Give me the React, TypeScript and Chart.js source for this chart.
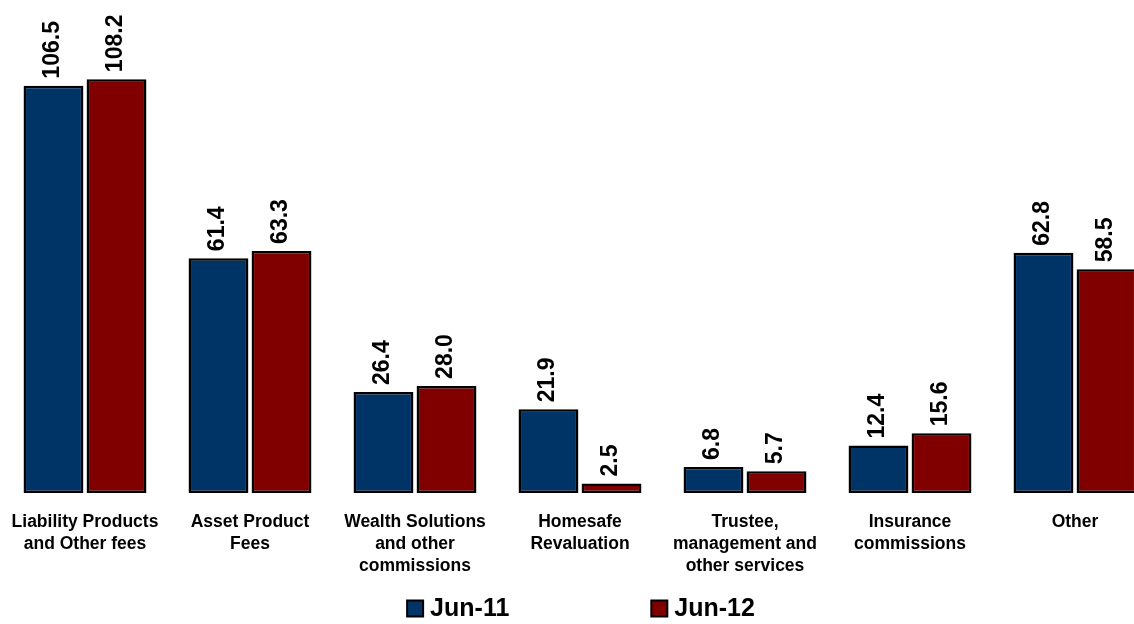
import React, { useEffect, useRef } from "react";
import { Chart, registerables } from "chart.js";

Chart.register(...registerables);

const categories: string[][] = [
  ["Liability Products", "and Other fees"],
  ["Asset Product", "Fees"],
  ["Wealth Solutions", "and other", "commissions"],
  ["Homesafe", "Revaluation"],
  ["Trustee,", "management and", "other services"],
  ["Insurance", "commissions"],
  ["Other"],
];

const jun11: number[] = [106.5, 61.4, 26.4, 21.9, 6.8, 12.4, 62.8];
const jun12: number[] = [108.2, 63.3, 28.0, 2.5, 5.7, 15.6, 58.5];

const seriesNames: string[] = ["Jun-11", "Jun-12"];
const seriesColors: string[] = ["#003366", "#800000"];

const FONT = "'Liberation Sans', Arial, Helvetica, sans-serif";

// Rotated value labels sitting just above each bar
const valueLabels = {
  id: "valueLabels",
  afterDatasetsDraw(chart: any) {
    const ctx = chart.ctx;
    ctx.save();
    ctx.fillStyle = "#000";
    ctx.font = `bold 23px ${FONT}`;
    ctx.textAlign = "left";
    ctx.textBaseline = "middle";
    chart.data.datasets.forEach((ds: any, di: number) => {
      const meta = chart.getDatasetMeta(di);
      meta.data.forEach((el: any, i: number) => {
        const v = ds.data[i] as number;
        ctx.save();
        ctx.translate(el.x - 1, el.y - 7);
        ctx.rotate(-Math.PI / 2);
        ctx.fillText(v.toFixed(1), 0, 0);
        ctx.restore();
      });
    });
    ctx.restore();
  },
};

// Legend along the bottom edge with square swatches
const bottomLegend = {
  id: "bottomLegend",
  afterDraw(chart: any) {
    const ctx = chart.ctx;
    ctx.save();
    ctx.font = `bold 25px ${FONT}`;
    ctx.textBaseline = "middle";
    ctx.textAlign = "left";
    const box = 18;
    const gap = 7;
    const between = 140;
    const items = chart.data.datasets.map((ds: any) => ({
      label: ds.label as string,
      color: ds.backgroundColor as string,
      w: box + gap + ctx.measureText(ds.label).width,
    }));
    const total =
      items.reduce((s: number, it: any) => s + it.w, 0) + between * (items.length - 1);
    let x = chart.width / 2 + 1 - total / 2;
    const cy = 608.5;
    items.forEach((it: any) => {
      ctx.fillStyle = "#000";
      ctx.fillRect(x, cy - box / 2, box, box);
      ctx.fillStyle = it.color;
      ctx.fillRect(x + 2, cy - box / 2 + 2, box - 4, box - 4);
      ctx.fillStyle = "#000";
      ctx.fillText(it.label, x + box + gap - 1, cy + 1);
      x += it.w + between;
    });
    ctx.restore();
  },
};

export default function App() {
  const canvasRef = useRef<HTMLCanvasElement | null>(null);

  useEffect(() => {
    if (!canvasRef.current) return;
    const chart = new Chart(canvasRef.current, {
      type: "bar",
      data: {
        labels: categories,
        datasets: [
          {
            label: seriesNames[0],
            data: jun11,
            backgroundColor: seriesColors[0],
            borderColor: "#000",
            borderWidth: 2.5,
            borderSkipped: false,
            categoryPercentage: 0.764,
            barPercentage: 0.95,
          },
          {
            label: seriesNames[1],
            data: jun12,
            backgroundColor: seriesColors[1],
            borderColor: "#000",
            borderWidth: 2.5,
            borderSkipped: false,
            categoryPercentage: 0.764,
            barPercentage: 0.95,
          },
        ],
      },
      options: {
        responsive: false,
        animation: false,
        layout: { padding: { left: 2.5, right: 2.5, top: 34, bottom: 0 } },
        plugins: {
          legend: { display: false },
          tooltip: { enabled: false },
        },
        scales: {
          x: {
            grid: { display: false },
            border: { display: false },
            ticks: {
              color: "#000",
              padding: 10,
              maxRotation: 0,
              autoSkip: false,
              font: { family: FONT, size: 17.5, weight: "bold", lineHeight: 1.27 },
            },
            afterFit: (scale: any) => {
              scale.height = 131;
              scale.paddingLeft = 0;
              scale.paddingRight = 0;
            },
          },
          y: {
            display: false,
            min: 0,
            max: 120,
          },
        },
      },
      plugins: [valueLabels, bottomLegend],
    });
    return () => chart.destroy();
  }, []);

  return (
    <div
      style={{
        position: "fixed",
        left: 0,
        top: 0,
        width: 1134,
        height: 624,
        overflow: "hidden",
        background: "#fff",
      }}
    >
      <canvas
        ref={canvasRef}
        width={1160}
        height={624}
        style={{ width: 1160, height: 624, display: "block" }}
      />
    </div>
  );
}
